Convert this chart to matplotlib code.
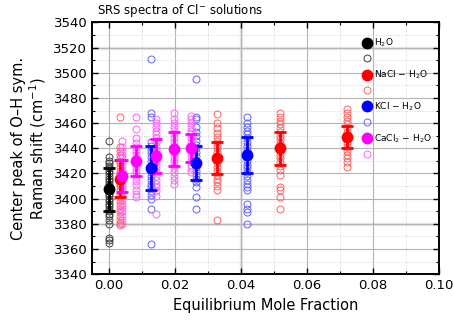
import numpy as np
import matplotlib
matplotlib.use("Agg")
import matplotlib.pyplot as plt
from matplotlib.ticker import MultipleLocator

# mean / std of each concentration
h2o_x = [0.0]
h2o_mean = [3407.5]
h2o_err = [17.0]

nacl_x = [0.0033, 0.0328, 0.0520, 0.0722]
nacl_mean = [3416.0, 3432.0, 3440.0, 3448.7]
nacl_err = [14.5, 12.7, 13.0, 8.7]

kcl_x = [0.0128, 0.0264, 0.0420]
kcl_mean = [3424.0, 3428.5, 3434.6]
kcl_err = [17.5, 13.5, 14.2]

cacl2_x = [0.0041, 0.0084, 0.0143, 0.0199, 0.0250]
cacl2_mean = [3418.0, 3430.0, 3434.0, 3439.7, 3440.5]
cacl2_err = [12.5, 12.0, 13.4, 13.5, 11.2]

# individual measurements (open circles)
h2o_pts = [[3446, 3433, 3430, 3428, 3426, 3424, 3422, 3420, 3418, 3416, 3414, 3412,
            3410, 3408, 3406, 3404, 3402, 3400, 3398, 3396, 3394, 3392, 3390, 3388,
            3386, 3383, 3380, 3369, 3367, 3365]]
nacl_pts = [
    [3465, 3441, 3438, 3435, 3432, 3430, 3428, 3425, 3422, 3420, 3417, 3415, 3412,
     3410, 3407, 3404, 3401, 3398, 3395, 3392, 3389, 3386, 3383, 3381, 3379],
    [3467, 3460, 3456, 3452, 3449, 3446, 3443, 3440, 3437, 3434, 3431, 3428, 3425,
     3422, 3419, 3416, 3413, 3410, 3407, 3383],
    [3468, 3465, 3462, 3459, 3456, 3453, 3450, 3447, 3444, 3441, 3438, 3435, 3432,
     3429, 3426, 3423, 3419, 3409, 3407, 3401, 3392],
    [3471, 3468, 3465, 3462, 3459, 3456, 3453, 3450, 3447, 3444, 3441, 3438, 3435,
     3432, 3429, 3425],
]
kcl_pts = [
    [3511, 3468, 3465, 3445, 3442, 3439, 3436, 3433, 3430, 3427, 3424, 3421, 3418,
     3415, 3412, 3409, 3406, 3403, 3400, 3392, 3364],
    [3495, 3465, 3463, 3457, 3453, 3450, 3446, 3443, 3440, 3437, 3434, 3431, 3428,
     3425, 3422, 3419, 3416, 3413, 3409, 3401, 3392],
    [3465, 3460, 3457, 3454, 3451, 3448, 3445, 3442, 3439, 3436, 3433, 3430, 3427,
     3424, 3421, 3418, 3415, 3412, 3409, 3407, 3396, 3392, 3389, 3380],
]
cacl2_pts = [
    [3446, 3441, 3438, 3435, 3432, 3429, 3426, 3423, 3420, 3417, 3414, 3411, 3408,
     3405, 3402, 3399, 3396, 3393, 3390, 3386, 3383, 3380],
    [3465, 3455, 3448, 3444, 3441, 3438, 3435, 3432, 3429, 3426, 3423, 3420, 3417,
     3414, 3411, 3407, 3404, 3401],
    [3463, 3460, 3457, 3454, 3451, 3448, 3445, 3442, 3439, 3436, 3433, 3430, 3427,
     3424, 3421, 3418, 3415, 3412, 3409, 3406, 3402, 3388],
    [3468, 3463, 3460, 3457, 3454, 3451, 3448, 3445, 3442, 3439, 3436, 3433, 3430,
     3427, 3424, 3421, 3418, 3415, 3412],
    [3466, 3463, 3460, 3457, 3454, 3451, 3448, 3445, 3442, 3439, 3436, 3433, 3430,
     3427, 3424, 3421],
]

series = [
    ("H$_2$O", "black", "#404040", h2o_x, h2o_mean, h2o_err, h2o_pts),
    ("NaCl − H$_2$O", "red", "#ff6060", nacl_x, nacl_mean, nacl_err, nacl_pts),
    ("KCl − H$_2$O", "blue", "#6060ff", kcl_x, kcl_mean, kcl_err, kcl_pts),
    ("CaCl$_2$ − H$_2$O", "magenta", "#ff60ff", cacl2_x, cacl2_mean, cacl2_err, cacl2_pts),
]

fig = plt.figure(figsize=(4.54, 3.21), dpi=100)
ax = fig.add_axes([0.203, 0.146, 0.764, 0.784])

handles = []
labels = []
for name, col, light, xs, means, errs, pts in series:
    for x, p in zip(xs, pts):
        ax.plot([x] * len(p), p, "o", mfc="none", mec=light, ms=5, mew=0.7, zorder=2)
    ax.errorbar(xs, means, yerr=errs, fmt="none", ecolor=col, elinewidth=2,
                capsize=4, capthick=2, zorder=3)
    h1, = ax.plot(xs, means, "o", color=col, ms=7.5, zorder=4, linestyle="none")
    h2, = ax.plot([], [], "o", mfc="none", mec=light, ms=5, mew=0.7, linestyle="none")
    handles += [h1, h2]
    labels += [name, " "]

ax.set_xlim(-0.005, 0.1)
ax.set_ylim(3340, 3540)
ax.xaxis.set_major_locator(MultipleLocator(0.02))
ax.xaxis.set_minor_locator(MultipleLocator(0.01))
ax.yaxis.set_major_locator(MultipleLocator(20))
ax.yaxis.set_minor_locator(MultipleLocator(10))
ax.set_xticklabels(["%.2f" % t for t in ax.get_xticks()])

ax.grid(which="major", color="#b4b4b4", lw=0.8, zorder=0)
ax.grid(which="minor", color="#d4d4d4", lw=0.7, ls=":", zorder=0)
ax.axhline(3520, color="#e6e6e6", lw=2.5, zorder=0.5)
ax.axhline(3380, color="#e6e6e6", lw=2.5, zorder=0.5)
ax.axvline(0.04, color="#e6e6e6", lw=2.5, zorder=0.5)
ax.set_axisbelow(True)

ax.tick_params(which="both", direction="in", top=True, right=True, labelsize=9.5)
ax.tick_params(which="major", length=4, width=1)
ax.tick_params(which="minor", length=2.5, width=0.8)
for s in ax.spines.values():
    s.set_linewidth(1.4)

ax.set_xlabel("Equilibrium Mole Fraction", fontsize=10.5)
ax.set_ylabel("Center peak of O–H sym.\nRaman shift (cm$^{-1}$)", fontsize=10.5,
              linespacing=1.1)
fig.text(0.213, 0.955, "SRS spectra of Cl$^{-}$ solutions", fontsize=8.5)

leg = ax.legend(handles, labels, loc="upper right", bbox_to_anchor=(0.995, 0.965),
                frameon=False, fontsize=6.5, handletextpad=0.3, labelspacing=0.58,
                handlelength=1.0, borderaxespad=0.2)

plt.savefig("out.png", dpi=100)
